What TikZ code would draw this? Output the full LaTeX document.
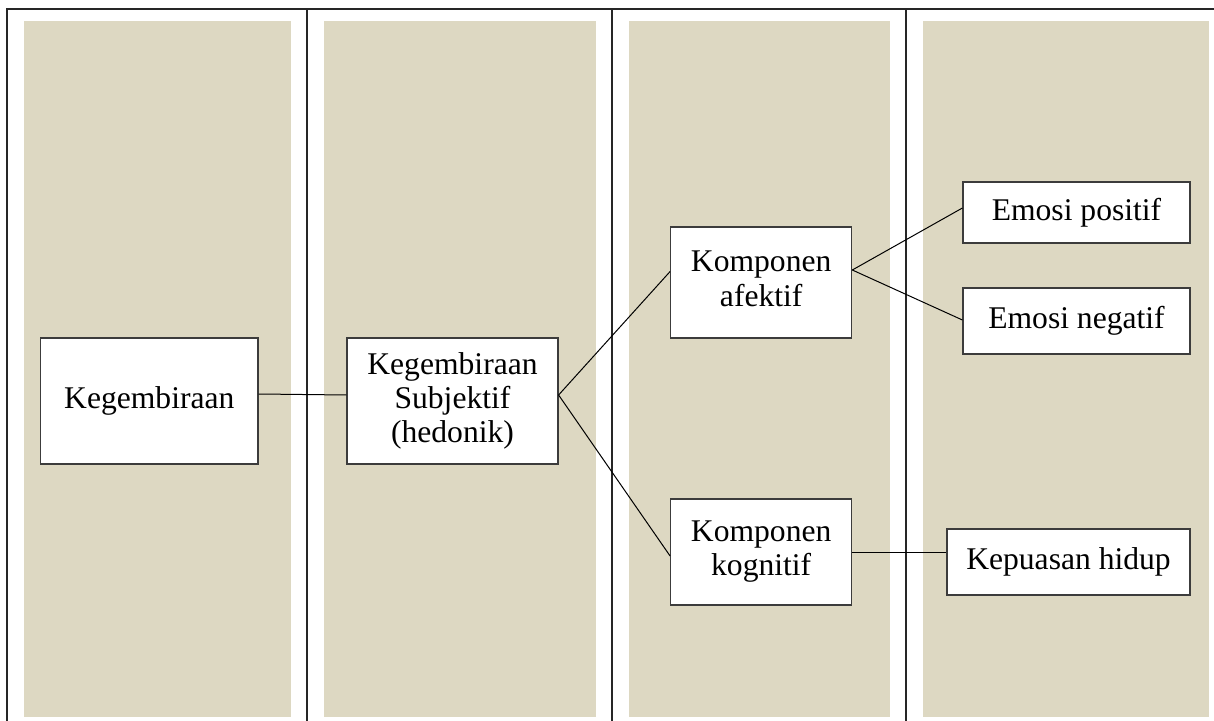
\documentclass[tikz,border=0pt]{standalone}
\usepackage{fontspec}
\setmainfont{Liberation Serif}
\usetikzlibrary{calc}
\definecolor{panel}{RGB}{221,216,194}
\definecolor{boxline}{RGB}{60,60,60}
\tikzset{
  panelbox/.style={fill=panel,draw=none},
  frameline/.style={line width=0.75pt,draw=black!85},
  conceptbox/.style={draw=boxline,line width=0.6pt,fill=white,inner sep=0pt,align=center,
     font=\fontsize{15.8pt}{17pt}\selectfont},
  link/.style={draw=black,line width=0.5pt}
}
\begin{document}
\begin{tikzpicture}[x=0.5pt,y=-0.5pt]
\useasboundingbox (0,0) rectangle (1214,721);
% panels
\fill[panelbox] (24,21) rectangle (291,717);
\fill[panelbox] (324,21) rectangle (596,717);
\fill[panelbox] (629,21) rectangle (890,717);
\fill[panelbox] (923,21) rectangle (1209,717);
% frame
\draw[frameline] (7,721) -- (7,9) -- (1214,9);
\draw[frameline] (307,9) -- (307,721);
\draw[frameline] (612,9) -- (612,721);
\draw[frameline] (906,9) -- (906,721);
% nodes
\node[conceptbox,minimum width=108.7pt,minimum height=63pt] (keg) at (149.3,401) {Kegembiraan};
\node[conceptbox,minimum width=105.5pt,minimum height=63pt] (subj) at (452.5,401) {Kegembiraan\\Subjektif\\(hedonik)};
\node[conceptbox,minimum width=90.5pt,minimum height=55.5pt] (afe) at (761.2,282.5) {\raisebox{3.5pt}{\shortstack{Komponen\\afektif}}};
\node[conceptbox,minimum width=90.5pt,minimum height=53pt] (kog) at (761.2,552) {Komponen\\kognitif};
\node[conceptbox,minimum width=113.5pt,minimum height=30.5pt] (pos) at (1076.5,212.5) {Emosi positif};
\node[conceptbox,minimum width=113.5pt,minimum height=33pt] (neg) at (1076.5,321) {Emosi negatif};
\node[conceptbox,minimum width=121.5pt,minimum height=33pt] (kep) at (1068.5,562) {Kepuasan hidup};
% connectors
\draw[link] ($(keg.east)+(0,-7)$) -- ($(subj.west)+(0,-6)$);
\draw[link] ($(subj.east)+(0,-6)$) -- ($(afe.west)+(0,-11)$);
\draw[link] ($(subj.east)+(0,-6)$) -- ($(kog.west)+(0,4)$);
\draw[link] ($(afe.east)+(0,-12.5)$) -- ($(pos.west)+(0,-4.5)$);
\draw[link] ($(afe.east)+(0,-12.5)$) -- ($(neg.west)+(0,-1)$);
\draw[link] (kog.east) -- (kep.west |- kog.east);
\end{tikzpicture}
\end{document}
